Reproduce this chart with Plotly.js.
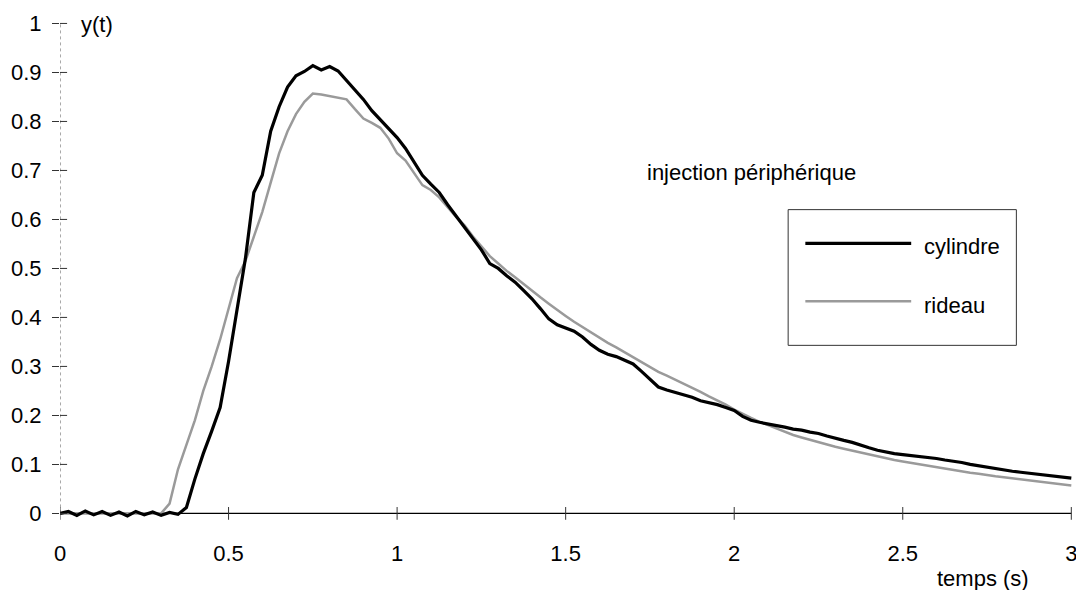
<!DOCTYPE html>
<html>
<head>
<meta charset="utf-8">
<script src="https://cdn.plot.ly/plotly-3.0.1.min.js"></script>
<style>html,body{margin:0;padding:0;background:#fff;}#chart{width:1076px;height:590px;}</style>
</head>
<body>
<div id="chart"></div>
<script>
// time axis (s)
const temps = [0,0.025,0.05,0.075,0.1,0.125,0.15,0.175,0.2,0.225,0.25,0.275,0.3,0.325,0.35,0.375,0.4,0.425,0.45,0.475,0.5,0.525,0.55,0.575,0.6,0.625,0.65,0.675,0.7,0.725,0.75,0.775,0.8,0.825,0.85,0.875,0.9,0.925,0.95,0.975,1.0,1.025,1.05,1.075,1.1,1.125,1.15,1.175,1.2,1.225,1.25,1.275,1.3,1.325,1.35,1.375,1.4,1.425,1.45,1.475,1.5,1.525,1.55,1.575,1.6,1.625,1.65,1.675,1.7,1.725,1.75,1.775,1.8,1.825,1.85,1.875,1.9,1.925,1.95,1.975,2.0,2.025,2.05,2.075,2.1,2.125,2.15,2.175,2.2,2.225,2.25,2.275,2.3,2.325,2.35,2.375,2.4,2.425,2.45,2.475,2.5,2.525,2.55,2.575,2.6,2.625,2.65,2.675,2.7,2.725,2.75,2.775,2.8,2.825,2.85,2.875,2.9,2.925,2.95,2.975,3.0];

const cylindre = [0.000,0.004,-0.004,0.005,-0.003,0.004,-0.004,0.003,-0.005,0.004,-0.003,0.003,-0.004,0.002,-0.002,0.012,0.07,0.122,0.168,0.216,0.31,0.42,0.52,0.655,0.69,0.78,0.83,0.87,0.893,0.902,0.914,0.905,0.912,0.903,0.884,0.866,0.845,0.822,0.803,0.785,0.767,0.745,0.716,0.69,0.672,0.655,0.63,0.607,0.585,0.562,0.538,0.51,0.5,0.485,0.472,0.455,0.438,0.418,0.397,0.385,0.378,0.372,0.36,0.345,0.333,0.325,0.32,0.312,0.305,0.29,0.275,0.258,0.252,0.247,0.242,0.237,0.23,0.226,0.222,0.216,0.21,0.198,0.19,0.186,0.183,0.179,0.176,0.172,0.17,0.166,0.163,0.158,0.153,0.149,0.145,0.139,0.134,0.129,0.125,0.122,0.12,0.118,0.117,0.114,0.112,0.109,0.107,0.104,0.1,0.097,0.094,0.091,0.089,0.086,0.084,0.082,0.08,0.078,0.076,0.074,0.072];

const rideau = [0,0,0,0,0,0,0,0,0,0,0,0,0,0.02,0.09,0.14,0.19,0.25,0.3,0.355,0.42,0.48,0.515,0.565,0.615,0.675,0.735,0.78,0.815,0.84,0.857,0.855,0.852,0.849,0.845,0.825,0.806,0.797,0.787,0.765,0.735,0.72,0.695,0.67,0.66,0.645,0.625,0.605,0.588,0.565,0.545,0.525,0.51,0.495,0.482,0.468,0.455,0.441,0.428,0.415,0.403,0.391,0.38,0.369,0.358,0.348,0.339,0.329,0.319,0.308,0.298,0.289,0.281,0.273,0.265,0.256,0.248,0.239,0.231,0.222,0.212,0.203,0.195,0.187,0.18,0.173,0.166,0.16,0.155,0.15,0.145,0.14,0.136,0.132,0.128,0.124,0.12,0.116,0.112,0.109,0.106,0.103,0.1,0.097,0.094,0.091,0.088,0.086,0.083,0.081,0.078,0.076,0.074,0.072,0.069,0.067,0.065,0.063,0.061,0.059,0.057];

const seriesNames = ['cylindre', 'rideau'];
const xTicks = [0, 0.5, 1, 1.5, 2, 2.5, 3];
const xTickLabels = ['0', '0.5', '1', '1.5', '2', '2.5', '3'];
const yTicks = [0, 0.1, 0.2, 0.3, 0.4, 0.5, 0.6, 0.7, 0.8, 0.9, 1];
const yTickLabels = ['0', '0.1', '0.2', '0.3', '0.4', '0.5', '0.6', '0.7', '0.8', '0.9', '1'];
const yTitle = 'y(t)';
const xTitle = 'temps (s)';
const noteText = 'injection périphérique';

const FONT = 'Liberation Sans, Arial, sans-serif';
const FS = 22;
const styles = {
  cylindre: {color: '#000000', width: 3.2},
  rideau: {color: '#9a9a9a', width: 2.5}
};

const traces = [
  {x: temps, y: rideau, name: seriesNames[1], mode: 'lines', line: styles.rideau, hoverinfo: 'skip'},
  {x: temps, y: cylindre, name: seriesNames[0], mode: 'lines', line: styles.cylindre, hoverinfo: 'skip'}
];

const shapes = [];
// y axis line (dotted grey) from 0 to 1
shapes.push({type: 'line', xref: 'x', yref: 'y', x0: 0, x1: 0, y0: 0, y1: 1, line: {color: '#555', width: 1, dash: 'dot'}, layer: 'below'});
// x axis line at y = 0
shapes.push({type: 'line', xref: 'x', yref: 'y', x0: 0, x1: 3, y0: 0, y1: 0, line: {color: '#000', width: 1.2}, layer: 'below'});
// inner half of y ticks
yTicks.forEach(v => shapes.push({type: 'line', xref: 'x', yref: 'y', x0: 0, x1: 0.021, y0: v, y1: v, line: {color: '#333', width: 1}}));
// crossing x ticks
xTicks.forEach(v => shapes.push({type: 'line', xref: 'x', yref: 'y', x0: v, x1: v, y0: -0.013, y1: 0.013, line: {color: '#333', width: 1}}));

// legend box (drawn)
const legX0 = 2.160, legX1 = 2.837, legY0 = 0.343, legY1 = 0.620;
shapes.push({type: 'rect', xref: 'x', yref: 'y', x0: legX0, x1: legX1, y0: legY0, y1: legY1, line: {color: '#333', width: 1}, fillcolor: 'rgba(255,255,255,0)'});
shapes.push({type: 'line', xref: 'x', yref: 'y', x0: 2.211, x1: 2.525, y0: 0.551, y1: 0.551, line: styles.cylindre});
shapes.push({type: 'line', xref: 'x', yref: 'y', x0: 2.211, x1: 2.525, y0: 0.433, y1: 0.433, line: styles.rideau});

const annotations = [
  {text: yTitle, xref: 'x', yref: 'y', x: 0.056, y: 0.997, xanchor: 'left', yanchor: 'middle', showarrow: false, font: {family: FONT, size: FS, color: '#000'}},
  {text: xTitle, xref: 'paper', yref: 'paper', x: 0.911, y: -0.089, xanchor: 'center', yanchor: 'middle', showarrow: false, font: {family: FONT, size: FS, color: '#000'}},
  {text: noteText, xref: 'x', yref: 'y', x: 1.736, y: 0.696, xanchor: 'left', yanchor: 'middle', showarrow: false, font: {family: FONT, size: FS, color: '#000'}},
  {text: seriesNames[0], xref: 'x', yref: 'y', x: 2.558, y: 0.545, xanchor: 'left', yanchor: 'middle', showarrow: false, font: {family: FONT, size: FS, color: '#000'}},
  {text: seriesNames[1], xref: 'x', yref: 'y', x: 2.558, y: 0.425, xanchor: 'left', yanchor: 'middle', showarrow: false, font: {family: FONT, size: FS, color: '#000'}}
];

const layout = {
  width: 1076, height: 590,
  margin: {l: 60, r: 3.3, t: 20.55, b: 57.4, pad: 0},
  paper_bgcolor: '#fff', plot_bgcolor: '#fff',
  showlegend: false,
  font: {family: FONT, size: FS, color: '#000'},
  xaxis: {
    range: [0, 3.005], showgrid: false, zeroline: false, showline: false,
    tickmode: 'array', tickvals: xTicks, ticktext: xTickLabels,
    ticks: '', ticklabelstandoff: 5, ticklabeloverflow: 'allow',
    tickfont: {family: FONT, size: FS, color: '#000'}
  },
  yaxis: {
    range: [-0.04, 1.005], showgrid: false, zeroline: false, showline: false,
    tickmode: 'array', tickvals: yTicks, ticktext: yTickLabels,
    ticks: 'outside', ticklen: 7, tickcolor: '#333', tickwidth: 1, ticklabelstandoff: 6,
    tickfont: {family: FONT, size: FS, color: '#000'}
  },
  shapes: shapes,
  annotations: annotations
};

Plotly.newPlot('chart', traces, layout, {staticPlot: true, displayModeBar: false});
</script>
</body>
</html>
